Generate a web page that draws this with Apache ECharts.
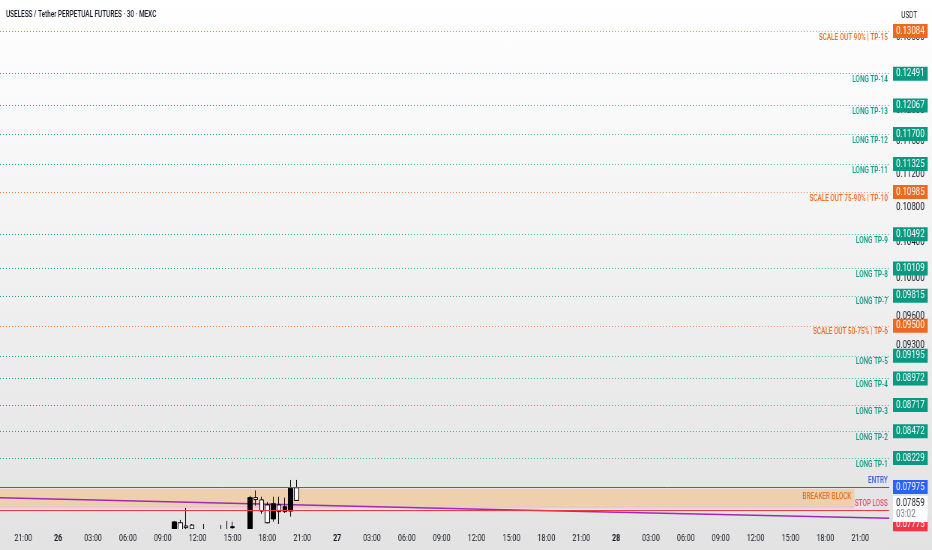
<!DOCTYPE html>
<html>
<head>
<meta charset="utf-8">
<script src="https://cdn.jsdelivr.net/npm/echarts@6/dist/echarts.min.js"></script>
<style>
html, body { margin: 0; padding: 0; }
/* the reference screenshot is squeezed sideways, so the chart is drawn wider and squeezed back */
#wrap { width: 932px; height: 550px; overflow: hidden; background: linear-gradient(#ffffff, #e2e2e2); }
#chart { width: 1243px; height: 550px; transform: scaleX(0.7498); transform-origin: 0 0; }
</style>
</head>
<body>
<div id="wrap"><div id="chart"></div></div>
<script>
const FONT = '"Roboto", "Liberation Sans", sans-serif';
const GREEN = '#089981';
const ORANGE = '#ec6a1e';
const BLUE = '#2962ff';
const RED = '#f23645';

// 30 min slots, the first slot is the 25th 19:00
const startDay = 25, startHour = 19, slotCount = 154;
const categories = [];
for (let i = 0; i < slotCount; i++) {
  const m = startHour * 60 + i * 30;
  const day = startDay + Math.floor(m / 1440);
  const hh = Math.floor((m % 1440) / 60), mm = m % 60;
  categories.push(day + ' ' + String(hh).padStart(2, '0') + ':' + String(mm).padStart(2, '0'));
}

// candles: open, close, low, high (first one at 26 10:00, one per 30 min)
const firstCandle = '26 10:00';
const candles = [
  [0.07620, 0.07678, 0.07580, 0.07686],
  [0.07671, 0.07600, 0.07570, 0.07695],
  [0.07644, 0.07630, 0.07560, 0.07796],
  [0.07652, 0.07620, 0.07560, 0.07660],
  [0.07590, 0.07570, 0.07540, 0.07600],
  [0.07580, 0.07600, 0.07550, 0.07660],
  [0.07600, 0.07580, 0.07550, 0.07610],
  [0.07580, 0.07590, 0.07540, 0.07600],
  [0.07590, 0.07580, 0.07550, 0.07652],
  [0.07580, 0.07600, 0.07550, 0.07686],
  [0.07630, 0.07638, 0.07560, 0.07680],
  [0.07600, 0.07570, 0.07520, 0.07610],
  [0.07570, 0.07550, 0.07500, 0.07590],
  [0.07550, 0.07883, 0.07500, 0.07899],
  [0.07883, 0.07866, 0.07814, 0.07945],
  [0.07864, 0.07769, 0.07745, 0.07891],
  [0.07821, 0.07671, 0.07665, 0.07845],
  [0.07703, 0.07830, 0.07680, 0.07891],
  [0.07821, 0.07764, 0.07660, 0.07891],
  [0.07764, 0.07806, 0.07753, 0.07883],
  [0.07769, 0.07964, 0.07722, 0.08036],
  [0.07968, 0.07859, 0.07859, 0.08036]
];

const levelNames = [
  'SCALE OUT 90% | TP-15', 'LONG TP-14', 'LONG TP-13', 'LONG TP-12', 'LONG TP-11',
  'SCALE OUT 75-90% | TP-10', 'LONG TP-9', 'LONG TP-8', 'LONG TP-7',
  'SCALE OUT 50-75% | TP-6', 'LONG TP-5', 'LONG TP-4', 'LONG TP-3', 'LONG TP-2', 'LONG TP-1'
];
const levelValues = [
  0.13084, 0.12491, 0.12067, 0.11700, 0.11325,
  0.10985, 0.10492, 0.10109, 0.09815,
  0.09500, 0.09195, 0.08972, 0.08717, 0.08472, 0.08229
];

const entryValue = 0.07975;
const stopValue = 0.07775;
const lastPrice = 0.07859;
const countdown = '03:02';

const breakerTop = 0.07958;
const breakerMid = 0.07814;
const breakerBottom = 0.07792;
const breakerEnd = '28 20:30';

// purple trend line
const trendTimes = ['25 19:00', '27 11:30', '28 23:30'];
const trendValues = [0.07883, 0.07787, 0.07709];

const priceTicks = [0.13, 0.12, 0.116, 0.112, 0.108, 0.104, 0.1, 0.096, 0.093];

// build the series data
const candleData = categories.map(() => '-');
const first = categories.indexOf(firstCandle);
candles.forEach((c, i) => { candleData[first + i] = c; });

const trendData = trendTimes.map((t, i) => [categories.indexOf(t), trendValues[i]]);

const hidden = 'rgba(0,0,0,0)';
const boxLabel = (v, bg) => ({
  position: 'end', distance: 5, formatter: v.toFixed(5), color: '#fff',
  backgroundColor: bg, padding: [2, 4, 1, 4], fontSize: 10.5
});
const nameLabel = (text, col, pos) => ({
  position: pos, distance: [2, 2], formatter: text, color: col, fontSize: 8.5, fontWeight: 500
});

const levelLines = [];
levelNames.forEach((name, i) => {
  const col = name.indexOf('SCALE') === 0 ? ORANGE : GREEN;
  levelLines.push({
    yAxis: levelValues[i],
    lineStyle: { color: col, type: [1, 3], width: 1 },
    label: boxLabel(levelValues[i], col)
  });
  levelLines.push({
    yAxis: levelValues[i],
    lineStyle: { color: hidden },
    label: nameLabel(name, col, 'insideEndBottom')
  });
});

levelLines.push({
  yAxis: entryValue,
  lineStyle: { color: BLUE, type: 'solid', width: 1 },
  label: boxLabel(entryValue, BLUE)
});
levelLines.push({
  yAxis: entryValue,
  lineStyle: { color: hidden },
  label: nameLabel('ENTRY', '#3f5fd8', 'insideEndTop')
});
levelLines.push({
  yAxis: stopValue,
  lineStyle: { color: RED, type: 'solid', width: 1.2 },
  label: {
    position: 'end', distance: 5,
    formatter: '{g| }\n{b|' + stopValue.toFixed(5) + '}',
    rich: {
      g: { lineHeight: 28, fontSize: 10 },
      b: { color: '#fff', backgroundColor: RED, padding: [2, 4, 1, 4], fontSize: 10.5, fontFamily: FONT }
    }
  }
});
levelLines.push({
  yAxis: stopValue,
  lineStyle: { color: hidden },
  label: nameLabel('STOP LOSS', '#e8506d', 'insideEndTop')
});
levelLines.push({
  yAxis: lastPrice,
  lineStyle: { color: hidden },
  label: {
    position: 'end', distance: 5,
    formatter: '{g| }\n{p|' + lastPrice.toFixed(5) + '}\n{t|' + countdown + '}',
    rich: {
      g: { lineHeight: 17, fontSize: 10 },
      p: { color: '#131722', backgroundColor: '#fff', width: 38, padding: [2, 4, 0, 4], fontSize: 10.5, fontFamily: FONT },
      t: { color: '#787b86', backgroundColor: '#fff', width: 38, padding: [0, 4, 2, 4], fontSize: 10.5, fontFamily: FONT }
    }
  }
});

const tickLines = priceTicks.map(v => ({
  yAxis: v,
  lineStyle: { color: hidden },
  label: { position: 'end', distance: 9, formatter: v.toFixed(5), color: '#131722', fontSize: 10.5 }
}));

const chart = echarts.init(document.getElementById('chart'));
chart.setOption({
  animation: false,
  textStyle: { fontFamily: FONT },
  title: [
    { text: 'USELESS / Tether PERPETUAL FUTURES · 30 · MEXC', left: 3, top: 5,
      textStyle: { fontSize: 8.5, fontWeight: 500, color: '#131722', fontFamily: FONT } },
    { text: 'USDT', left: 1197, top: 6,
      textStyle: { fontSize: 8.5, fontWeight: 'normal', color: '#131722', fontFamily: FONT } }
  ],
  grid: { left: 0, right: 57, top: 0, bottom: 21 },
  // candles are not clipped at the bottom, this strip hides what falls under the plot
  graphic: [{
    type: 'rect', z: 10, silent: true,
    shape: { x: 0, y: 529, width: 1186, height: 21 },
    style: { fill: '#e3e3e3' }
  }],
  xAxis: {
    type: 'category',
    data: categories,
    boundaryGap: false,
    z: 20,
    axisLine: { show: false },
    axisTick: { show: false },
    splitLine: { show: false },
    axisLabel: {
      margin: 5,
      fontSize: 9.5,
      color: '#131722',
      interval: (i, v) => {
        const t = v.split(' ')[1];
        return t.slice(3) === '00' && (+t.slice(0, 2)) % 3 === 0;
      },
      formatter: v => {
        const parts = v.split(' ');
        return parts[1] === '00:00' ? '{b|' + parts[0] + '}' : parts[1];
      },
      rich: { b: { fontWeight: 'bold', fontSize: 9.5, color: '#131722' } }
    }
  },
  yAxis: {
    type: 'log',
    min: 0.07619,
    max: 0.13532,
    position: 'right',
    axisLine: { show: false },
    axisTick: { show: false },
    axisLabel: { show: false },
    splitLine: { show: false }
  },
  series: [
    {
      name: 'ticks',
      type: 'line',
      data: [],
      z: 1,
      markLine: { symbol: ['none', 'none'], silent: true, precision: 6, data: tickLines },
      markArea: {
        silent: true,
        data: [
          [
            { name: 'BREAKER BLOCK', xAxis: categories[0], yAxis: breakerTop,
              itemStyle: { color: 'rgba(243, 196, 140, 0.62)' },
              label: { show: true, position: 'insideRight', color: '#e8701a', fontSize: 8.5, fontWeight: 500, distance: 4 } },
            { xAxis: breakerEnd, yAxis: breakerMid }
          ],
          [
            { xAxis: categories[0], yAxis: breakerMid,
              itemStyle: { color: 'rgba(246, 178, 170, 0.55)' }, label: { show: false } },
            { xAxis: breakerEnd, yAxis: breakerBottom }
          ]
        ]
      }
    },
    {
      name: 'trend',
      type: 'line',
      data: trendData,
      smooth: true,
      symbol: 'none',
      z: 2,
      lineStyle: { color: '#a02ab5', width: 1.5 }
    },
    {
      name: 'USELESS',
      type: 'candlestick',
      data: candleData,
      barWidth: 6,
      z: 3,
      itemStyle: { color: '#000', color0: '#fff', borderColor: '#000', borderColor0: '#000', borderWidth: 1 }
    },
    {
      name: 'levels',
      type: 'line',
      data: [],
      z: 4,
      markLine: { symbol: ['none', 'none'], silent: true, precision: 6, data: levelLines }
    }
  ]
});
</script>
</body>
</html>
